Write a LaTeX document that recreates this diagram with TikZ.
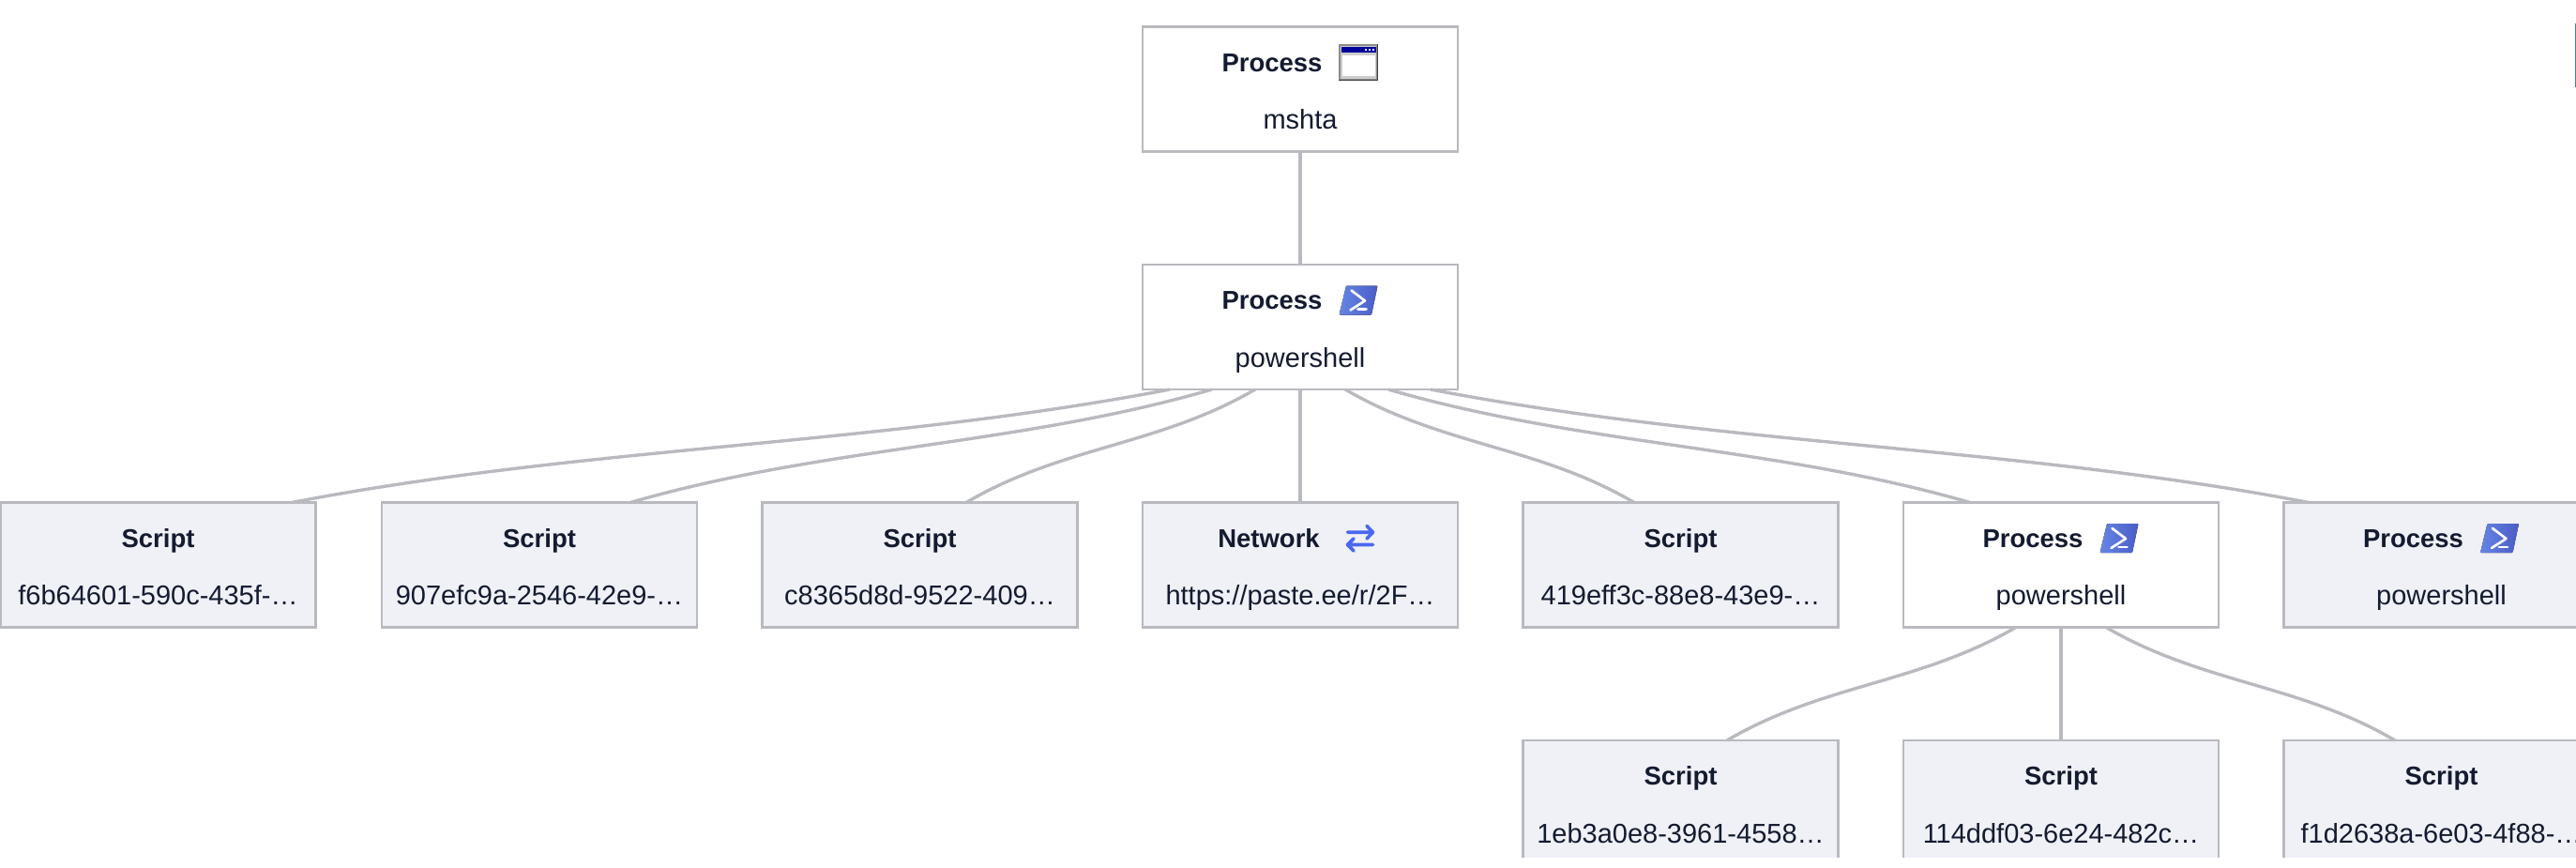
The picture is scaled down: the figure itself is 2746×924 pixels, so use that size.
\documentclass[tikz,border=0pt]{standalone}
\usepackage{fontspec}
\setmainfont{Liberation Sans}
\usepackage{xcolor}
\definecolor{boxGray}{HTML}{B9BABF}
\definecolor{paleFill}{HTML}{F0F1F7}
\definecolor{inkDark}{HTML}{141B30}
\definecolor{psLight}{HTML}{6685E4}
\definecolor{psDark}{HTML}{4A5CC6}
\definecolor{netBlue}{HTML}{4A69F0}
\tikzset{
	plainbox/.style={draw=boxGray, line width=2.4pt, fill=white, minimum width=336pt, minimum height=133pt, inner sep=0pt, outer sep=0pt},
	palebox/.style={plainbox, fill=paleFill},
	titletext/.style={anchor=base, text=inkDark, font=\fontsize{27.5}{30}\selectfont\bfseries},
	subtext/.style={anchor=base, text=inkDark, font=\fontsize{29}{32}\selectfont},
	edgeline/.style={draw=boxGray, line width=3.4pt},
	winicon/.pic={
		\fill[black!75] (-21,-19.5) rectangle (21,19.5);
		\fill[black!45] (-21,-19.5) rectangle (20,18);
		\fill[black!20] (-19,-18) rectangle (19,17);
		\fill[blue!60!black] (-18.5,-16.5) rectangle (18.5,-11);
		\foreach \dotx in {8,12,16}
			\fill[white] (\dotx-1,-15) rectangle (\dotx+1,-12.5);
		\fill[white] (-17.5,-8) rectangle (18,14);
	},
	psicon/.pic={
		\fill[left color=psLight, right color=psDark, rounded corners=1pt] (-20.5,15.5) -- (-13,-15.5) -- (20.5,-15.5) -- (14,15.5) -- cycle;
		\draw[white, line width=2.6pt, line cap=round, line join=round] (-7.5,-10.5) -- (7,0.5) -- (-8.5,10.5);
		\draw[white, line width=2.6pt, line cap=round] (-0.5,9.5) -- (8.5,9.5);
	},
	neticon/.pic={
		\draw[netBlue, line width=3.6pt, line cap=round, line join=round] (-13.5,-6.3) -- (13.5,-6.3) (7,-13) -- (13.5,-6.3) -- (7,0.5);
		\draw[netBlue, line width=3.6pt, line cap=round, line join=round] (13.5,7) -- (-13.5,7) (-7,0.5) -- (-13.5,7) -- (-7,13.5);
	}
}

\begin{document}
\begin{tikzpicture}[x=1pt, y=-1pt]
	\useasboundingbox (0,0) rectangle (2746,924);
	\begin{scope}
	\clip (0,0) rectangle (2746,913);
	% boxes with a centred title
	\foreach \nm/\cx/\cy/\txt in {
		sca/168.5/602/f6b64601-590c-435f-\dots,
		scb/575/602/907efc9a-2546-42e9-\dots,
		scc/980.5/602/c8365d8d-9522-409\dots,
		scd/1791.5/602/419eff3c-88e8-43e9-\dots,
		sce/1791.5/855.5/1eb3a0e8-3961-4558\dots,
		scf/2197/855.5/114ddf03-6e24-482c\dots,
		scg/2602.5/855.5/f1d2638a-6e03-4f88-\dots}{
		\node[palebox] (\nm) at (\cx,\cy) {};
		\node[titletext] (\nm title) at ([yshift=19pt]\nm.center) {Script};
		\node[subtext] (\nm sub) at ([yshift=-42.5pt]\nm.center) {\txt};
	}
	% boxes with an icon beside the title
	\foreach \nm/\cx/\cy/\sty/\txt in {
		msh/1386/95/plainbox/mshta,
		psa/1386/348.5/plainbox/powershell,
		psb/2197/602/plainbox/powershell,
		psc/2602.5/602/palebox/powershell}{
		\node[\sty] (\nm) at (\cx,\cy) {};
		\node[titletext] (\nm title) at ([xshift=-30pt,yshift=19pt]\nm.center) {Process};
		\node[subtext] (\nm sub) at ([yshift=-42.5pt]\nm.center) {\txt};
	}
	\node[palebox] (net) at (1386,602) {};
	\node[titletext] (net title) at ([xshift=-33.5pt,yshift=19pt]net.center) {Network};
	\node[subtext] (net sub) at ([yshift=-42.5pt]net.center) {https://paste.ee/r/2F\dots};
	\pic at ([xshift=62pt,yshift=28.5pt]msh.center) {winicon};
	\pic at ([xshift=62pt,yshift=28.5pt]psa.center) {psicon};
	\pic at ([xshift=62pt,yshift=28.5pt]psb.center) {psicon};
	\pic at ([xshift=62pt,yshift=28.5pt]psc.center) {psicon};
	\pic at ([xshift=64pt,yshift=28.5pt]net.center) {neticon};
	% straight edges
	\draw[edgeline] (msh) -- (psa);
	\draw[edgeline] (psa) -- (net);
	\draw[edgeline] (psb) -- (scf);
	% curved edges
	\foreach \from/\fdx/\to/\tdx/\ca/\cb in {
		psa/-139/sca/142.5/-312/312,
		psa/-94/scb/97/-207/207,
		psa/-48/scc/49.5/-103/102,
		psa/48/scd/-49.5/103/-102,
		psa/94/psb/-97/207/-207,
		psa/139/psc/-141.5/312/-312,
		psb/-48/sce/49.5/-103/102,
		psb/48/scg/-49.5/103/-102}{
		\draw[edgeline] ([xshift=\fdx pt]\from.south) .. controls +(\ca,60) and +(\cb,-60) .. ([xshift=\tdx pt]\to.north);
	}
	\coordinate (marktop) at (2745.5,25);
	\coordinate (markend) at (2745.5,93);
	\draw[netBlue, line width=1.5pt] (marktop) -- (markend);
	\end{scope}
\end{tikzpicture}
\end{document}
